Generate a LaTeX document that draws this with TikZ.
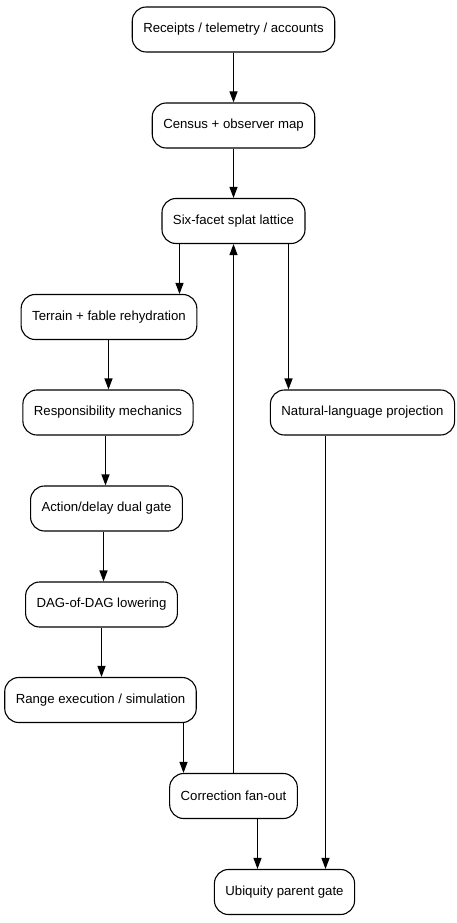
\documentclass[tikz,border=0pt]{standalone}
\usepackage{fontspec}
\setmainfont{Liberation Sans}
\usepackage{xcolor}
\usetikzlibrary{arrows.meta}

\begin{document}
\begin{tikzpicture}[x=1pt,y=-1pt,
    stage/.style={draw, line width=1.1pt, rounded corners=14pt, minimum height=45pt,
        inner xsep=11pt, font=\fontsize{13.2}{15}\selectfont},
    flow/.style={line width=1.1pt, -{Triangle[length=11pt,width=8pt]}}]
	\useasboundingbox (0,0) rectangle (457,923);
    \node[stage] (rec) at (233.5,29.5) {Receipts / telemetry / accounts};
    \node[stage] (cen) at (233.5,125.5) {Census + observer map};
    \node[stage] (lat) at (233.5,221) {Six-facet splat lattice};
    \node[stage] (ter) at (109,317) {Terrain + fable rehydration};
    \node[stage] (nat) at (362.5,412.5) {Natural-language projection};
    \node[stage] (res) at (108,412.5) {Responsibility mechanics};
    \node[stage] (act) at (106.5,508.5) {Action/delay dual gate};
    \node[stage] (dag) at (101.5,604.5) {DAG-of-DAG lowering};
    \node[stage] (rng) at (100.5,700) {Range execution / simulation};
    \node[stage] (cor) at (233.5,796) {Correction fan-out};
    \node[stage] (ubq) at (284.5,892) {Ubiquity parent gate};
    % main spine
    \draw[flow] (rec) -- (cen);
    \draw[flow] (cen) -- (lat);
    \draw[flow] ([xshift=-54pt]lat.south) -- ([xshift=-54pt]lat.south |- ter.north);
    \draw[flow] ([xshift=55pt]lat.south) -- ([xshift=55pt]lat.south |- nat.north);
    \draw[flow] (ter.south -| 108.5,0) -- (res.north -| 108.5,0);
    \draw[flow] (res.south -| 105.5,0) -- (act.north -| 105.5,0);
    \draw[flow] (act.south -| 103.5,0) -- (dag.north -| 103.5,0);
    \draw[flow] (dag.south -| 101.5,0) -- (rng.north -| 101.5,0);
    \draw[flow] (rng.south -| 183.5,0) -- (cor.north -| 183.5,0);
    % feedback and exits
    \draw[flow] (cor) -- (lat);
    \draw[flow] ([xshift=-27pt]ubq.north |- cor.south) -- ([xshift=-27pt]ubq.north);
    \draw[flow] ([xshift=-37pt]nat.south) -- ([xshift=-37pt]nat.south |- ubq.north);
\end{tikzpicture}
\end{document}
